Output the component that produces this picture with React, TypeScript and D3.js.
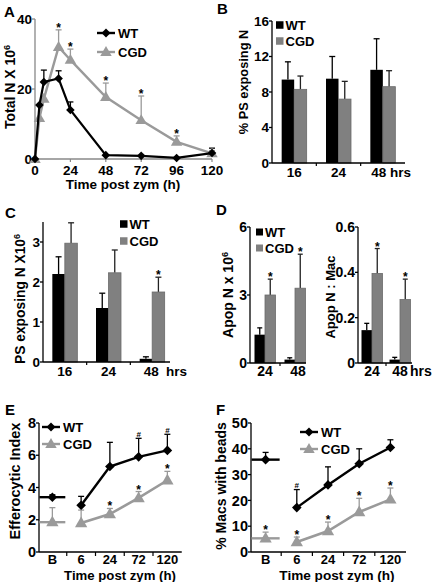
import React from 'react';
import * as d3 from 'd3';

const FONT = '"Liberation Sans", Arial, Helvetica, sans-serif';
const LINEGRAY = '#9a9a9a';
const BARGRAY = '#808080';

// ---------- Panel A ----------
const timeA = [0, 3, 6, 16, 24, 48, 72, 96, 120];
const wtA = [0, 15.4, 22, 23, 14, 1.1, 0.9, 0.3, 1.7];
const wtAErr = [0, 0, 3.4, 2.2, 2.3, 0, 0, 0, 1.4];
const cgdA = [0, 11.7, 17.2, 32, 28.3, 17.7, 11.1, 4.9, 1.6];
const cgdAErr = [0, 0, 0, 4.9, 3.1, 4, 6.9, 1.7, 0.8];
const starsA = [false, false, false, true, true, true, true, true, false];
const ticksAx = [0, 24, 48, 72, 96, 120];
const ticksAy = [0, 20, 40];

// ---------- Panel B ----------
const groupsB = ['16', '24', '48'];
const wtB = [9.4, 9.5, 10.5];
const wtBErr = [2, 2.5, 3.5];
const cgdB = [8.3, 7.2, 8.6];
const cgdBErr = [1.5, 2, 1.8];
const starsB = [false, false, false];
const ticksBy = [0, 4, 8, 12, 16];

// ---------- Panel C ----------
const groupsC = ['16', '24', '48'];
const wtC = [2.2, 1.35, 0.08];
const wtCErr = [0.43, 0.37, 0.05];
const cgdC = [2.97, 2.23, 1.75];
const cgdCErr = [0.51, 0.57, 0.37];
const starsC = [false, false, true];
const ticksCy = [0, 1, 2, 3];

// ---------- Panel D ----------
const groupsD = ['24', '48'];
const wtD1 = [1.25, 0.15];
const wtD1Err = [0.3, 0.08];
const cgdD1 = [3.0, 3.3];
const cgdD1Err = [0.7, 1.5];
const starsD1 = [true, true];
const ticksD1 = [0, 3, 6];
const wtD2 = [0.145, 0.015];
const wtD2Err = [0.03, 0.01];
const cgdD2 = [0.395, 0.28];
const cgdD2Err = [0.11, 0.09];
const starsD2 = [true, true];
const ticksD2 = [0, 0.2, 0.4, 0.6];

// ---------- Panel E ----------
const catsEF = ['B', '6', '24', '72', '120'];
const wtE = [3.4, 2.9, 5.3, 5.9, 6.3];
const wtEErr = [0.15, 0.55, 1.5, 1.15, 1.0];
const cgdE = [1.85, 1.8, 2.35, 3.35, 4.45];
const cgdEErr = [0.9, 0.8, 0.35, 0.4, 0.55];
const wtEMarks = ['', '', '', '#', '#'];
const cgdEMarks = ['', '', '*', '*', '*'];
const ticksEy = [0, 2, 4, 6, 8];

// ---------- Panel F ----------
const wtF = [35.8, 17.2, 26, 34.2, 40.5];
const wtFErr = [2.8, 7, 7, 5.8, 3];
const cgdF = [5.3, 3.9, 8.1, 15.5, 20.4];
const cgdFErr = [2.4, 1.9, 3.5, 5.3, 4.4];
const wtFMarks = ['', '#', '', '', ''];
const cgdFMarks = ['*', '*', '*', '*', '*'];
const ticksFy = [0, 10, 20, 30, 40, 50];

const diamond = (x: number, y: number, s: number) =>
  `M${x},${y - s}L${x + s},${y}L${x},${y + s}L${x - s},${y}Z`;
const triangle = (x: number, y: number, s: number) =>
  `M${x},${y - s * 1.15}L${x + s * 1.1},${y + s * 0.75}L${x - s * 1.1},${y + s * 0.75}Z`;

function ErrBar({ x, y0, y1, color, cap = 3, w = 1.3 }: any) {
  return (
    <g stroke={color} strokeWidth={w}>
      <line x1={x} x2={x} y1={y0} y2={y1} />
      <line x1={x - cap} x2={x + cap} y1={y1} y2={y1} />
    </g>
  );
}

function YAxis({ x, scale, ticks, size = 13.5, fmt = (t: number) => String(t), color = '#000', top }: any) {
  const r = scale.range();
  return (
    <g>
      <line x1={x} x2={x} y1={r[0]} y2={top ?? r[1]} stroke={color} strokeWidth={1.3} />
      {ticks.map((t: number) => (
        <g key={t}>
          <line x1={x - 3} x2={x} y1={scale(t)} y2={scale(t)} stroke={color} strokeWidth={1.3} />
          <text x={x - 3} y={scale(t)} dy="0.36em" textAnchor="end" fontSize={size} fontWeight="bold">
            {fmt(t)}
          </text>
        </g>
      ))}
    </g>
  );
}

function YTitle({ cx, cy, size, text, sup }: any) {
  return (
    <text
      transform={`translate(${cx + size * 0.36},${cy}) rotate(-90)`}
      textAnchor="middle"
      fontSize={size}
      fontWeight="bold"
    >
      {text}
      {sup ? (
        <tspan dy={-size * 0.38} fontSize={size * 0.65}>
          {sup}
        </tspan>
      ) : null}
    </text>
  );
}

function Letter({ x, y, t }: any) {
  return (
    <text x={x} y={y} fontSize={15} fontWeight="bold">
      {t}
    </text>
  );
}

function LineLegend({ x1, x2, y, label, kind }: any) {
  const c = kind === 'wt' ? '#000' : LINEGRAY;
  const mx = (x1 + x2) / 2;
  return (
    <g>
      <line x1={x1} x2={x2} y1={y} y2={y} stroke={c} strokeWidth={2.4} />
      <path d={kind === 'wt' ? diamond(mx, y, 4.5) : triangle(mx, y, 5.2)} fill={c} />
      <text x={x2 + 3} y={y} dy="0.36em" fontSize={13} fontWeight="bold">
        {label}
      </text>
    </g>
  );
}

function BarLegend({ x, y1, y2, s = 7.5 }: any) {
  return (
    <g>
      <rect x={x} y={y1 - s / 2} width={s} height={s} fill="#000" />
      <text x={x + s + 2} y={y1} dy="0.36em" fontSize={13} fontWeight="bold">
        WT
      </text>
      <rect x={x} y={y2 - s / 2} width={s} height={s} fill={BARGRAY} />
      <text x={x + s + 2} y={y2} dy="0.36em" fontSize={13} fontWeight="bold">
        CGD
      </text>
    </g>
  );
}

function PanelA() {
  const x = d3.scaleLinear().domain([0, 120]).range([35, 212]);
  const y = d3.scaleLinear().domain([0, 40]).range([159, 19]);
  const line = d3
    .line<number>()
    .x((_, i) => x(timeA[i]))
    .y((d) => y(d));
  return (
    <g>
      <Letter x={4} y={17} t="A" />
      <YAxis x={35} scale={y} ticks={ticksAy} color="#888" size={13.5} />
      <line x1={35} x2={212} y1={159} y2={159} stroke="#888" strokeWidth={1.5} />
      {ticksAx.map((t) => (
        <g key={t}>
          <line x1={x(t)} x2={x(t)} y1={159} y2={162} stroke="#888" strokeWidth={1.2} />
          <text x={x(t)} y={175} textAnchor="middle" fontSize={13.5} fontWeight="bold">
            {t}
          </text>
        </g>
      ))}
      <text x={123} y={189} textAnchor="middle" fontSize={13.5} fontWeight="bold">
        Time post zym (h)
      </text>
      <YTitle cx={10} cy={87} size={14} text="Total N X 10" sup="6" />
      {cgdA.map((v, i) =>
        cgdAErr[i] > 0 ? (
          <ErrBar key={'ce' + i} x={x(timeA[i])} y0={y(v)} y1={y(v + cgdAErr[i])} color={LINEGRAY} />
        ) : null
      )}
      {wtA.map((v, i) =>
        wtAErr[i] > 0 ? (
          <ErrBar key={'we' + i} x={x(timeA[i])} y0={y(v)} y1={y(v + wtAErr[i])} color="#000" />
        ) : null
      )}
      <path d={line(cgdA)!} fill="none" stroke={LINEGRAY} strokeWidth={2.4} />
      {cgdA.map((v, i) => (
        <path key={'ct' + i} d={triangle(x(timeA[i]), y(v), 5.2)} fill={LINEGRAY} />
      ))}
      <path d={line(wtA)!} fill="none" stroke="#000" strokeWidth={2.2} />
      {wtA.map((v, i) => (
        <path key={'wd' + i} d={diamond(x(timeA[i]), y(v), 4.3)} fill="#000" />
      ))}
      {cgdA.map((v, i) =>
        starsA[i] ? (
          <text key={'s' + i} x={x(timeA[i])} y={y(v + cgdAErr[i]) + 2} textAnchor="middle" fontSize={12} fontWeight="bold">
            *
          </text>
        ) : null
      )}
      <LineLegend x1={97} x2={115} y={33} label="WT" kind="wt" />
      <LineLegend x1={97} x2={115} y={52} label="CGD" kind="cgd" />
    </g>
  );
}

function Bars({ groups, band, y, barW, wt, wtE, cgd, cgdE, stars, cap = 3 }: any) {
  const base = y(0);
  return (
    <g>
      {groups.map((g: string, i: number) => {
        const c = band(g) + band.bandwidth() / 2;
        return (
          <g key={g}>
            <ErrBar x={c - barW / 2} y0={y(wt[i])} y1={y(wt[i] + wtE[i])} color="#000" cap={cap} />
            <ErrBar x={c + barW / 2} y0={y(cgd[i])} y1={y(cgd[i] + cgdE[i])} color="#222" cap={cap} />
            <rect x={c - barW} y={y(wt[i])} width={barW} height={base - y(wt[i])} fill="#000" />
            <rect
              x={c}
              y={y(cgd[i])}
              width={barW}
              height={base - y(cgd[i])}
              fill={BARGRAY}
              stroke="#6a6a6a"
              strokeWidth={0.8}
            />
            {stars[i] ? (
              <text x={c + barW / 2} y={y(cgd[i] + cgdE[i]) + 2} textAnchor="middle" fontSize={12} fontWeight="bold">
                *
              </text>
            ) : null}
          </g>
        );
      })}
    </g>
  );
}

function XBandAxis({ band, y, x0, x1, groups, labelY, size, hrsX, lastShift = 0 }: any) {
  return (
    <g>
      <line x1={x0} x2={x1} y1={y} y2={y} stroke="#000" strokeWidth={1.3} />
      {groups.slice(1).map((g: string) => (
        <line key={'t' + g} x1={band(g)} x2={band(g)} y1={y} y2={y + 3} stroke="#000" strokeWidth={1.2} />
      ))}
      {groups.map((g: string, i: number) => (
        <text
          key={g}
          x={band(g) + band.bandwidth() / 2 + (i === groups.length - 1 ? lastShift : 0)}
          y={labelY}
          textAnchor="middle"
          fontSize={size}
          fontWeight="bold"
        >
          {g}
        </text>
      ))}
      {hrsX != null ? (
        <text x={hrsX} y={labelY} fontSize={size} fontWeight="bold">
          hrs
        </text>
      ) : null}
    </g>
  );
}

function PanelB() {
  const y = d3.scaleLinear().domain([0, 16]).range([163, 21]);
  const band = d3.scaleBand().domain(groupsB).range([272, 405]);
  return (
    <g>
      <Letter x={217} y={14} t="B" />
      <YAxis x={272} scale={y} ticks={ticksBy} size={13.5} />
      <Bars groups={groupsB} band={band} y={y} barW={12.5} wt={wtB} wtE={wtBErr} cgd={cgdB} cgdE={cgdBErr} stars={starsB} />
      <XBandAxis band={band} y={163} x0={272} x1={405} groups={groupsB} labelY={177} size={13.5} hrsX={390} lastShift={-4} />
      <BarLegend x={276} y1={25} y2={41} />
      <YTitle cx={243} cy={82} size={12.8} text="% PS exposing N" />
    </g>
  );
}

function PanelC() {
  const y = d3.scaleLinear().domain([0, 3.5]).range([362, 222]);
  const band = d3.scaleBand().domain(groupsC).range([43, 174]);
  return (
    <g>
      <Letter x={5} y={218} t="C" />
      <YAxis x={43} scale={y} ticks={ticksCy} size={13.5} top={222} />
      <Bars groups={groupsC} band={band} y={y} barW={12.5} wt={wtC} wtE={wtCErr} cgd={cgdC} cgdE={cgdCErr} stars={starsC} />
      <XBandAxis band={band} y={362} x0={43} x1={170} groups={groupsC} labelY={376} size={13.5} hrsX={166} lastShift={-1} />
      <BarLegend x={120} y1={224} y2={241} />
      <YTitle cx={20} cy={299} size={13.8} text="PS exposing N X10" sup="6" />
    </g>
  );
}

function PanelD() {
  const y1 = d3.scaleLinear().domain([0, 6]).range([363, 227]);
  const y2 = d3.scaleLinear().domain([0, 0.6]).range([363, 227]);
  const b1 = d3.scaleBand().domain(groupsD).range([250, 310]);
  const b2 = d3.scaleBand().domain(groupsD).range([358, 414]);
  const f2 = (t: number) => (t === 0 ? '0' : t.toFixed(1));
  return (
    <g>
      <Letter x={216} y={215} t="D" />
      <YAxis x={250} scale={y1} ticks={ticksD1} size={14} />
      <Bars groups={groupsD} band={b1} y={y1} barW={10.5} wt={wtD1} wtE={wtD1Err} cgd={cgdD1} cgdE={cgdD1Err} stars={starsD1} cap={2.5} />
      <XBandAxis band={b1} y={363} x0={250} x1={306} groups={groupsD} labelY={376} size={14} lastShift={3} />
      <BarLegend x={256} y1={232} y2={248} s={7} />
      <YTitle cx={228} cy={295} size={14} text="Apop N x 10" sup="6" />

      <YAxis x={358} scale={y2} ticks={ticksD2} size={14} fmt={f2} />
      <Bars groups={groupsD} band={b2} y={y2} barW={10.5} wt={wtD2} wtE={wtD2Err} cgd={cgdD2} cgdE={cgdD2Err} stars={starsD2} cap={2.5} />
      <XBandAxis band={b2} y={363} x0={358} x1={412} groups={groupsD} labelY={376} size={14} hrsX={410} />
      <YTitle cx={330} cy={297} size={13} text="Apop N : Mac" />
    </g>
  );
}

function CatPanel({ letter, lx, x0, x1, yTop, ymax, ticks, tickSize, xTickSize, wt, wtE, cgd, cgdE, wtM, cgdM, legX1, legX2, legY1, legY2, title, titleCx, titleSize, ytitle, ytCx, ytCy, ytSize }: any) {
  const band = d3.scaleBand().domain(catsEF).range([x0, x1]);
  const y = d3.scaleLinear().domain([0, ymax]).range([552, yTop]);
  const cx = (c: string) => band(c)! + band.bandwidth() / 2;
  const line = d3
    .line<number>()
    .x((_, i) => cx(catsEF[i + 1]))
    .y((d) => y(d));
  const segHalf = band.bandwidth() * 0.45;
  return (
    <g>
      <Letter x={lx} y={415} t={letter} />
      <YAxis x={x0 + 1} scale={y} ticks={ticks} size={tickSize} />
      <line x1={x0 + 1} x2={x1} y1={552} y2={552} stroke="#000" strokeWidth={1.3} />
      {catsEF.slice(1).map((c) => (
        <line key={'t' + c} x1={band(c)} x2={band(c)} y1={552} y2={556} stroke="#000" strokeWidth={1.2} />
      ))}
      {catsEF.map((c) => (
        <text key={c} x={cx(c)} y={563.5} textAnchor="middle" fontSize={xTickSize} fontWeight="bold">
          {c}
        </text>
      ))}
      <text x={titleCx} y={579.5} textAnchor="middle" fontSize={titleSize} fontWeight="bold">
        {title}
      </text>
      <YTitle cx={ytCx} cy={ytCy} size={ytSize} text={ytitle} />
      {cgd.map((v: number, i: number) => (
        <ErrBar key={'ce' + i} x={cx(catsEF[i])} y0={y(v)} y1={y(v + cgdE[i])} color={LINEGRAY} />
      ))}
      {wt.map((v: number, i: number) => (
        <ErrBar key={'we' + i} x={cx(catsEF[i])} y0={y(v)} y1={y(v + wtE[i])} color="#000" />
      ))}
      <line x1={cx('B') - segHalf} x2={cx('B') + segHalf} y1={y(cgd[0])} y2={y(cgd[0])} stroke={LINEGRAY} strokeWidth={2.4} />
      <line x1={cx('B') - segHalf} x2={cx('B') + segHalf} y1={y(wt[0])} y2={y(wt[0])} stroke="#000" strokeWidth={2.4} />
      <path d={line(cgd.slice(1))!} fill="none" stroke={LINEGRAY} strokeWidth={2.6} />
      <path d={line(wt.slice(1))!} fill="none" stroke="#000" strokeWidth={2.4} />
      {cgd.map((v: number, i: number) => (
        <path key={'ct' + i} d={triangle(cx(catsEF[i]), y(v), 5.6)} fill={LINEGRAY} />
      ))}
      {wt.map((v: number, i: number) => (
        <path key={'wd' + i} d={diamond(cx(catsEF[i]), y(v), 4.8)} fill="#000" />
      ))}
      {wt.map((v: number, i: number) =>
        wtM[i] ? (
          <text key={'wm' + i} x={cx(catsEF[i])} y={y(v + wtE[i]) - 1.5} textAnchor="middle" fontSize={8} fontWeight="bold" fill="#000">
            {wtM[i]}
          </text>
        ) : null
      )}
      {cgd.map((v: number, i: number) =>
        cgdM[i] ? (
          <text key={'cm' + i} x={cx(catsEF[i])} y={y(v + cgdE[i]) + 2} textAnchor="middle" fontSize={12} fontWeight="bold">
            {cgdM[i]}
          </text>
        ) : null
      )}
      <LineLegend x1={legX1} x2={legX2} y={legY1} label="WT" kind="wt" />
      <LineLegend x1={legX1} x2={legX2} y={legY2} label="CGD" kind="cgd" />
    </g>
  );
}

export default function App() {
  return (
    <svg
      width={433}
      height={582}
      viewBox="0 0 433 582"
      style={{ position: 'absolute', left: 0, top: 0, background: '#fff' }}
      fontFamily={FONT}
    >
      <rect width={433} height={582} fill="#fff" />
      <PanelA />
      <PanelB />
      <PanelC />
      <PanelD />
      <CatPanel
        letter="E"
        lx={5}
        x0={38}
        x1={181.75}
        yTop={423}
        ymax={8}
        ticks={ticksEy}
        tickSize={14.5}
        xTickSize={13}
        wt={wtE}
        wtE={wtEErr}
        cgd={cgdE}
        cgdE={cgdEErr}
        wtM={wtEMarks}
        cgdM={cgdEMarks}
        legX1={42}
        legX2={60}
        legY1={427}
        legY2={444}
        title="Time post zym (h)"
        titleCx={120}
        titleSize={13.2}
        ytitle="Efferocytic Index"
        ytCx={15}
        ytCy={481}
        ytSize={14.5}
      />
      <CatPanel
        letter="F"
        lx={216}
        x0={250}
        x1={406}
        yTop={423}
        ymax={50}
        ticks={ticksFy}
        tickSize={14.5}
        xTickSize={13}
        wt={wtF}
        wtE={wtFErr}
        cgd={cgdF}
        cgdE={cgdFErr}
        wtM={wtFMarks}
        cgdM={cgdFMarks}
        legX1={300}
        legX2={318}
        legY1={432}
        legY2={449}
        title="Time post zym (h)"
        titleCx={337}
        titleSize={13.6}
        ytitle="% Macs with beads"
        ytCx={221}
        ytCy={486}
        ytSize={14}
      />
    </svg>
  );
}
